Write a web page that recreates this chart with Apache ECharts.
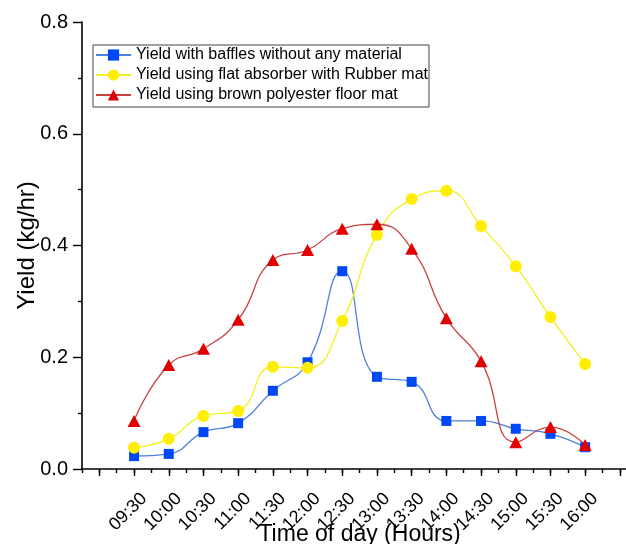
<!DOCTYPE html>
<html>
<head>
<meta charset="utf-8">
<script src="https://cdn.jsdelivr.net/npm/echarts@6/dist/echarts.min.js"></script>
<style>
html,body{margin:0;padding:0;background:#fff;}
#c{width:626px;height:544px;}
</style>
</head>
<body>
<div id="c"></div>
<script>
// ---- data ----
var timeLabels = ["09:30","10:00","10:30","11:00","11:30","12:00","12:30","13:00","13:30","14:00","14:30","15:00","15:30","16:00"];
var seriesNames = ["Yield with baffles without any material","Yield using flat absorber with Rubber mat","Yield using brown polyester floor mat"];
var yieldBaffles = [0.023,0.027,0.066,0.082,0.140,0.191,0.354,0.165,0.156,0.086,0.086,0.072,0.063,0.039];
var yieldRubber  = [0.038,0.054,0.095,0.104,0.183,0.181,0.265,0.419,0.483,0.498,0.435,0.363,0.272,0.188];
var yieldPolyester = [0.086,0.186,0.215,0.267,0.374,0.392,0.430,0.438,0.394,0.270,0.193,0.048,0.075,0.043];
var yTicks = [0, 0.2, 0.4, 0.6, 0.8];

function pairs(arr){ return arr.map(function(v,i){ return [i, v]; }); }

var FONT = "'Liberation Sans', Arial, sans-serif";
var chart = echarts.init(document.getElementById('c'), null, {renderer:'canvas'});

var axisColor = '#000';
var gridBase = {top: 22, bottom: 75, containLabel: false, outerBoundsMode: 'none'};
function mkGrid(left, right){ var g = {}; for (var k in gridBase) g[k] = gridBase[k]; g.left = left; g.right = right; return g; }

var option = {
  backgroundColor: '#fff',
  animation: false,
  textStyle: {fontFamily: FONT},
  legend: {
    orient: 'vertical',
    left: 93, top: 45,
    padding: [0, 1, 2, 2],
    itemWidth: 35, itemHeight: 14, itemGap: 0,
    borderColor: '#444', borderWidth: 1, borderRadius: 0,
    backgroundColor: '#fff',
    textStyle: {fontSize: 16, lineHeight: 20, color: '#000', fontFamily: FONT},
    data: seriesNames
  },
  grid: [
    mkGrid(82, -11.2),
    mkGrid(99.35, -11.2),
    mkGrid(109.35, -21.2)
  ],
  xAxis: [
    {
      type: 'value', gridIndex: 0, min: -1.5, max: 14.5, interval: 0.5,
      axisLine: {show: true, onZero: false, lineStyle: {color: axisColor, width: 1.6}},
      axisTick: {show: true, length: 4, lineStyle: {color: axisColor, width: 1.4}},
      axisLabel: {show: false},
      splitLine: {show: false},
      name: 'Time of day (Hours)', nameLocation: 'middle', nameGap: 54, nameMoveOverlap: false,
      nameTextStyle: {fontSize: 23, color: '#000', fontFamily: FONT}
    },
    {
      type: 'value', gridIndex: 1, min: -1, max: 14.5, interval: 1,
      axisLine: {show: false, onZero: false},
      axisTick: {show: true, length: 7, lineStyle: {color: axisColor, width: 1.4}},
      axisLabel: {show: false},
      splitLine: {show: false}
    },
    {
      type: 'value', gridIndex: 2, min: -1, max: 14.5, interval: 1,
      axisLine: {show: false, onZero: false},
      axisTick: {show: false},
      splitLine: {show: false},
      axisLabel: {
        show: true, rotate: 45, margin: 27, fontSize: 18, color: '#000', fontFamily: FONT,
        showMinLabel: true, showMaxLabel: true,
        formatter: function(v){
          var i = Math.round(v);
          if (Math.abs(v - i) < 1e-6 && i >= 0 && i < timeLabels.length) return timeLabels[i];
          return '';
        }
      }
    }
  ],
  yAxis: [
    {
      type: 'value', gridIndex: 0, min: yTicks[0], max: yTicks[yTicks.length-1], interval: 0.2,
      axisLine: {show: true, onZero: false, lineStyle: {color: axisColor, width: 1.6}},
      axisTick: {show: true, length: 9, lineStyle: {color: axisColor, width: 1.4}},
      minorTick: {show: true, splitNumber: 2, length: 4, lineStyle: {color: axisColor, width: 1.4}},
      axisLabel: {fontSize: 20, margin: 14, color: '#000', fontFamily: FONT,
        formatter: function(v){ return v.toFixed(1); }},
      splitLine: {show: false},
      name: 'Yield (kg/hr)', nameLocation: 'middle', nameGap: 43, nameMoveOverlap: false,
      nameTextStyle: {fontSize: 24, color: '#000', fontFamily: FONT}
    },
    {type: 'value', gridIndex: 1, min: 0, max: 0.8, show: false},
    {type: 'value', gridIndex: 2, min: 0, max: 0.8, show: false}
  ],
  series: [
    {
      name: seriesNames[0], type: 'line', xAxisIndex: 0, yAxisIndex: 0,
      data: pairs(yieldBaffles), smooth: 0.5,
      symbol: 'rect', symbolSize: 10,
      lineStyle: {color: '#4f7fe0', width: 1.3},
      itemStyle: {color: '#0048f5'}
    },
    {
      name: seriesNames[1], type: 'line', xAxisIndex: 0, yAxisIndex: 0,
      data: pairs(yieldRubber), smooth: 0.5,
      symbol: 'circle', symbolSize: 12,
      lineStyle: {color: '#f2f01e', width: 1.3},
      itemStyle: {color: '#ffee00'}
    },
    {
      name: seriesNames[2], type: 'line', xAxisIndex: 0, yAxisIndex: 0,
      data: pairs(yieldPolyester), smooth: 0.5,
      symbol: 'triangle', symbolSize: [13, 12],
      lineStyle: {color: '#c94040', width: 1.3},
      itemStyle: {color: '#e00000'}
    }
  ]
};
chart.setOption(option);
</script>
</body>
</html>
